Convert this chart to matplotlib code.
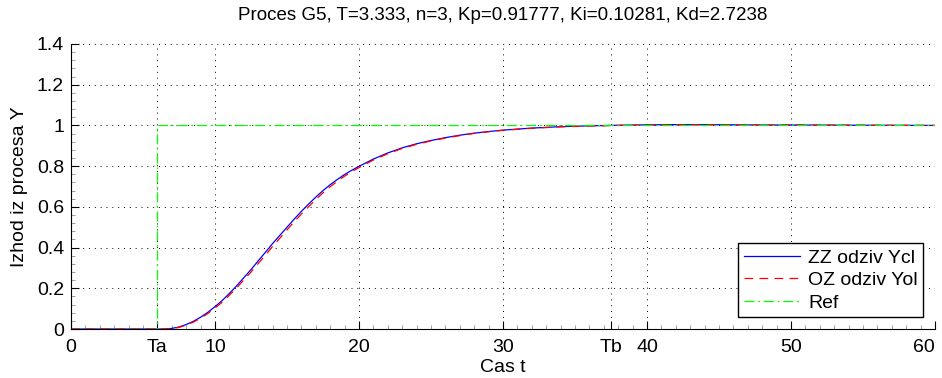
import numpy as np
import matplotlib
matplotlib.use("Agg")
import matplotlib.pyplot as plt
from matplotlib.ticker import AutoMinorLocator, MultipleLocator

plt.rcParams['font.family'] = ['Liberation Sans', 'DejaVu Sans']

# values
t = [0, 6, 6.5, 7, 7.5, 8, 8.5, 9, 9.5, 10, 10.5, 11, 11.5, 12, 12.5, 13, 13.5,
     14, 14.5, 15, 15.5, 16, 16.5, 17, 17.5, 18, 18.5, 19, 19.5, 20, 21, 22,
     23, 24, 25, 26, 27, 28, 29, 30, 32, 34, 36, 38, 40, 42, 44, 46, 48, 50,
     55, 60]
y_cl = [0, 0, 0.0, 0.003, 0.010, 0.022, 0.038, 0.058, 0.082, 0.110, 0.140,
        0.175, 0.212, 0.252, 0.292, 0.335, 0.377, 0.420, 0.460, 0.500, 0.540,
        0.578, 0.614, 0.648, 0.680, 0.709, 0.735, 0.759, 0.780, 0.799, 0.835,
        0.865, 0.890, 0.910, 0.926, 0.940, 0.952, 0.962, 0.970, 0.977, 0.987,
        0.994, 0.998, 1.001, 1.003, 1.004, 1.004, 1.003, 1.002, 1.002, 1.001,
        1.000]
y_ol = [0, 0, 0.0, 0.002, 0.008, 0.019, 0.034, 0.053, 0.076, 0.103, 0.132,
        0.166, 0.202, 0.241, 0.280, 0.322, 0.363, 0.406, 0.446, 0.487, 0.527,
        0.565, 0.601, 0.636, 0.669, 0.699, 0.726, 0.751, 0.773, 0.793, 0.830,
        0.861, 0.887, 0.907, 0.924, 0.938, 0.950, 0.961, 0.969, 0.976, 0.986,
        0.993, 0.997, 1.000, 1.002, 1.003, 1.003, 1.003, 1.002, 1.002, 1.001,
        1.000]
t_ref = [0, 6, 6, 60]
y_ref = [0, 0, 1, 1]

Ta = 6.0
Tb = 37.5
x_ticks = [0, Ta, 10, 20, 30, Tb, 40, 50, 60]
x_labels = ['0', 'Ta', '10', '20', '30', 'Tb', '40', '50', '60']
y_ticks = [0, 0.2, 0.4, 0.6, 0.8, 1, 1.2, 1.4]
y_labels = ['0', '0.2', '0.4', '0.6', '0.8', '1', '1.2', '1.4']

fig = plt.figure(figsize=(9.42, 3.78), dpi=100)
ax = fig.add_axes([0.0754, 0.1296, 0.9172, 0.754])

ax.plot(t, y_cl, color='#0000ff', lw=0.9, label='ZZ odziv Ycl')
ax.plot(t, y_ol, color='#ff0000', lw=0.9, ls=(0, (7, 5)), label='OZ odziv Yol')
ax.plot(t_ref, y_ref, color='#00ff00', lw=0.9, ls=(0, (8, 3, 1.5, 3)), label='Ref')

ax.set_xlim(0, 60)
ax.set_ylim(0, 1.4)
ax.set_xticks(x_ticks)
ax.set_xticklabels(x_labels)
ax.set_yticks(y_ticks)
ax.set_yticklabels(y_labels)
ax.xaxis.set_minor_locator(MultipleLocator(1))
ax.yaxis.set_minor_locator(AutoMinorLocator(5))

ax.tick_params(direction='in', which='major', length=6, width=0.8, labelsize=14, pad=7)
ax.tick_params(direction='in', which='minor', length=3, width=0.5, colors='#777777')
ax.tick_params(axis='y', which='major', pad=5)
ax.get_xticklabels()[-1].set_horizontalalignment('right')
ax.grid(True, which='major', ls=(0, (1, 5)), color='black', lw=0.7)

for side in ['top', 'right']:
    ax.spines[side].set_visible(False)

ax.set_title('Proces G5, T=3.333, n=3, Kp=0.91777, Ki=0.10281, Kd=2.7238',
             fontsize=13.5, pad=17)
ax.set_xlabel('Cas t', fontsize=14, labelpad=2)
ax.set_ylabel('Izhod iz procesa Y', fontsize=14, labelpad=6)

leg = ax.legend(loc='lower right', fontsize=14, fancybox=False, framealpha=1,
                edgecolor='black', handlelength=2.9, handletextpad=0.4,
                borderaxespad=0.6, labelspacing=0.25, borderpad=0.3)
leg.get_frame().set_linewidth(1.0)

fig.savefig('out.png', dpi=100)
